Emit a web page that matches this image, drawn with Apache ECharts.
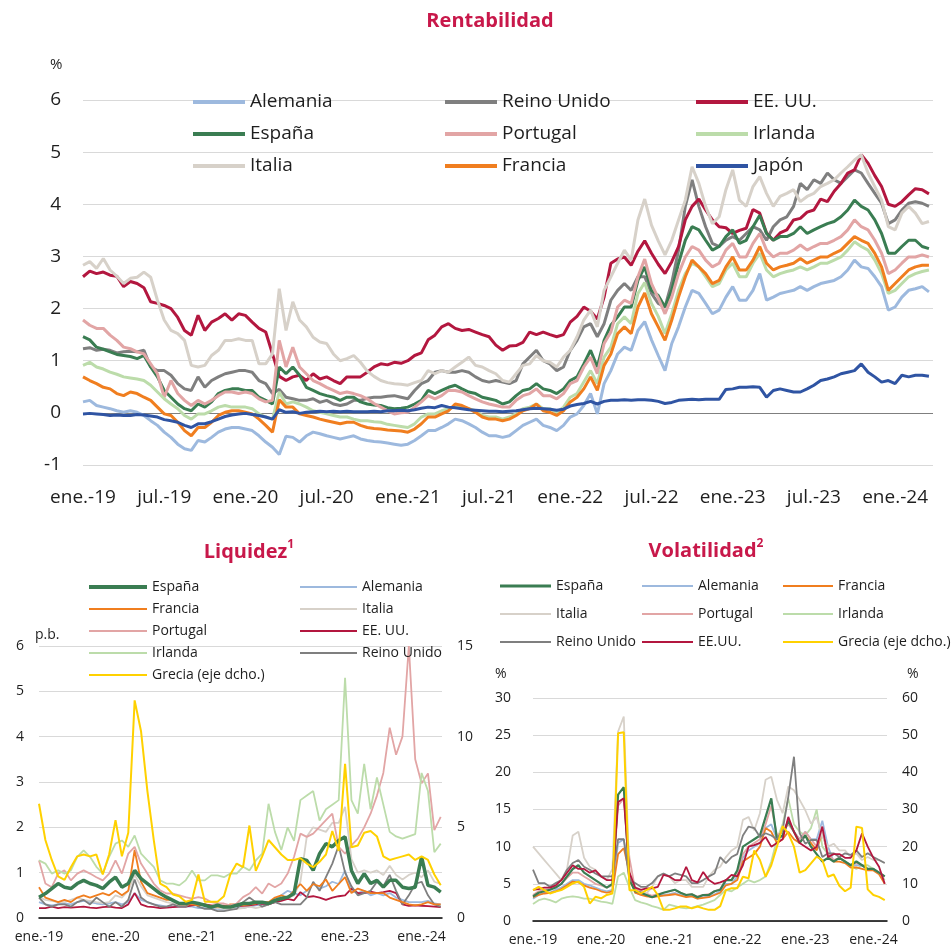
<!DOCTYPE html>
<html>
<head>
<meta charset="utf-8">
<script src="https://cdn.jsdelivr.net/npm/echarts@6.0.0/dist/echarts.min.js"></script>
<style>
  html, body { margin: 0; padding: 0; background: #fff; }
  #rent { position: absolute; left: 0; top: 0; width: 952px; height: 520px; }
  #liq { position: absolute; left: 0; top: 520px; width: 476px; height: 427px; }
  #vol { position: absolute; left: 476px; top: 520px; width: 476px; height: 427px; }
</style>
</head>
<body>
<div id="rent"></div>
<div id="liq"></div>
<div id="vol"></div>
<script>
const FONT = 'Open Sans';

// eje x: meses desde ene.-19
const mesesRent = [];            // quincenal, 126 puntos
for (let i = 0; i < 126; i++) mesesRent.push(i / 2);
const mesesLiq = [];             // mensual, ene.-19 a abr.-24
for (let i = 0; i < 64; i++) mesesLiq.push(i);
const mesesVol = [];             // mensual, ene.-19 a mar.-24
for (let i = 0; i < 63; i++) mesesVol.push(i);

// ---------- Rentabilidad (%) ----------
const rentAlemania = [
  0.21, 0.24, 0.14, 0.11, 0.08, 0.04, 0.01, 0.04, 0.01, -0.05, -0.15, -0.24, -0.37, -0.47, -0.60, -0.69, -0.72, -0.53, -0.56, -0.47, -0.37, -0.31, -0.28, -0.28,
  -0.31, -0.34, -0.44, -0.56, -0.66, -0.80, -0.45, -0.47, -0.56, -0.44, -0.37, -0.40, -0.44, -0.47, -0.50, -0.47, -0.44, -0.50, -0.53, -0.55, -0.56, -0.58, -0.60, -0.62,
  -0.60, -0.53, -0.44, -0.34, -0.34, -0.28, -0.21, -0.12, -0.15, -0.21, -0.28, -0.37, -0.44, -0.44, -0.47, -0.44, -0.34, -0.24, -0.18, -0.12, -0.24, -0.28, -0.34, -0.24,
  -0.08, -0.02, 0.14, 0.37, -0.02, 0.56, 0.81, 1.13, 1.26, 1.20, 1.58, 1.75, 1.40, 1.10, 0.81, 1.33, 1.65, 2.03, 2.35, 2.29, 2.10, 1.90, 1.97, 2.22,
  2.42, 2.16, 2.16, 2.35, 2.67, 2.16, 2.22, 2.29, 2.32, 2.35, 2.42, 2.35, 2.42, 2.48, 2.51, 2.54, 2.61, 2.74, 2.93, 2.80, 2.77, 2.61, 2.42, 1.97,
  2.03, 2.22, 2.35, 2.38, 2.42, 2.32
];
const rentReinoUnido = [
  1.23, 1.25, 1.20, 1.22, 1.20, 1.15, 1.17, 1.18, 1.17, 1.20, 0.88, 0.81, 0.81, 0.72, 0.56, 0.46, 0.43, 0.69, 0.49, 0.62, 0.69, 0.75, 0.78, 0.81,
  0.81, 0.78, 0.62, 0.56, 0.37, 0.45, 0.30, 0.27, 0.24, 0.24, 0.27, 0.20, 0.24, 0.17, 0.14, 0.17, 0.24, 0.24, 0.28, 0.30, 0.30, 0.32, 0.33, 0.30,
  0.27, 0.43, 0.56, 0.62, 0.78, 0.81, 0.78, 0.78, 0.81, 0.78, 0.69, 0.62, 0.59, 0.62, 0.59, 0.56, 0.62, 0.94, 1.07, 1.20, 1.00, 0.94, 0.81, 0.88,
  1.20, 1.39, 1.65, 1.71, 1.46, 1.71, 2.16, 2.35, 2.48, 2.35, 2.61, 2.61, 2.29, 2.10, 2.03, 2.50, 3.12, 3.96, 4.47, 3.96, 3.57, 3.25, 3.19, 3.31,
  3.38, 3.31, 3.44, 3.57, 3.51, 3.31, 3.57, 3.70, 3.76, 3.96, 4.40, 4.28, 4.47, 4.40, 4.60, 4.47, 4.40, 4.53, 4.66, 4.60, 4.40, 4.21, 4.02, 3.63,
  3.70, 3.89, 4.02, 4.05, 4.02, 3.96
];
const rentEEUU = [
  2.61, 2.72, 2.67, 2.70, 2.64, 2.62, 2.42, 2.52, 2.48, 2.40, 2.13, 2.10, 2.06, 2.00, 1.83, 1.58, 1.49, 1.87, 1.58, 1.74, 1.81, 1.90, 1.78, 1.90,
  1.87, 1.74, 1.62, 1.55, 1.13, 0.70, 0.62, 0.69, 0.72, 0.62, 0.75, 0.65, 0.69, 0.62, 0.56, 0.69, 0.69, 0.69, 0.78, 0.88, 0.94, 0.92, 0.97, 0.95,
  1.00, 1.10, 1.15, 1.40, 1.49, 1.65, 1.71, 1.62, 1.58, 1.60, 1.55, 1.50, 1.46, 1.30, 1.20, 1.28, 1.29, 1.35, 1.55, 1.50, 1.55, 1.50, 1.46, 1.50,
  1.74, 1.85, 2.03, 1.95, 1.80, 2.22, 2.87, 2.95, 2.99, 2.83, 3.10, 3.30, 3.06, 2.85, 2.67, 2.90, 3.19, 3.70, 3.96, 4.10, 3.89, 3.70, 3.57, 3.55,
  3.44, 3.50, 3.54, 3.90, 3.83, 3.45, 3.31, 3.45, 3.51, 3.70, 3.73, 3.85, 3.89, 4.10, 4.05, 4.25, 4.40, 4.60, 4.66, 4.95, 4.79, 4.55, 4.34, 4.00,
  3.96, 4.05, 4.18, 4.30, 4.28, 4.20
];
const rentEspana = [
  1.46, 1.40, 1.26, 1.22, 1.17, 1.12, 1.10, 1.08, 1.04, 1.10, 0.88, 0.69, 0.43, 0.30, 0.17, 0.08, 0.04, 0.17, 0.11, 0.21, 0.37, 0.43, 0.46, 0.46,
  0.43, 0.43, 0.30, 0.24, 0.17, 0.88, 0.75, 0.88, 0.72, 0.49, 0.43, 0.37, 0.33, 0.30, 0.24, 0.30, 0.30, 0.21, 0.17, 0.15, 0.14, 0.10, 0.08, 0.09,
  0.11, 0.17, 0.24, 0.43, 0.37, 0.43, 0.49, 0.53, 0.46, 0.40, 0.37, 0.30, 0.27, 0.24, 0.17, 0.21, 0.33, 0.43, 0.46, 0.56, 0.46, 0.43, 0.37, 0.46,
  0.62, 0.69, 0.94, 1.20, 0.88, 1.39, 1.68, 1.84, 2.03, 2.03, 2.54, 2.80, 2.35, 2.25, 2.03, 2.35, 2.87, 3.31, 3.57, 3.51, 3.31, 3.12, 3.19, 3.38,
  3.51, 3.25, 3.31, 3.57, 3.79, 3.44, 3.31, 3.38, 3.38, 3.44, 3.57, 3.44, 3.51, 3.57, 3.63, 3.67, 3.76, 3.89, 4.08, 3.96, 3.89, 3.70, 3.44, 3.06,
  3.06, 3.19, 3.31, 3.31, 3.19, 3.15
];
const rentPortugal = [
  1.78, 1.68, 1.62, 1.62, 1.49, 1.39, 1.26, 1.23, 1.17, 1.13, 0.94, 0.75, 0.30, 0.62, 0.37, 0.24, 0.14, 0.24, 0.17, 0.24, 0.33, 0.40, 0.40, 0.37,
  0.40, 0.37, 0.27, 0.21, 0.24, 1.39, 0.88, 1.26, 0.88, 0.75, 0.62, 0.56, 0.49, 0.43, 0.37, 0.40, 0.37, 0.33, 0.27, 0.18, 0.11, 0.04, -0.02, 0.00,
  0.01, 0.11, 0.21, 0.33, 0.27, 0.33, 0.43, 0.43, 0.40, 0.33, 0.27, 0.21, 0.17, 0.14, 0.11, 0.11, 0.24, 0.33, 0.37, 0.46, 0.33, 0.33, 0.27, 0.37,
  0.56, 0.62, 0.88, 1.07, 0.75, 1.33, 1.55, 2.03, 2.16, 2.10, 2.61, 2.95, 2.48, 2.20, 1.90, 2.22, 2.67, 2.99, 3.19, 3.12, 2.93, 2.80, 2.87, 3.12,
  3.25, 2.99, 2.99, 3.25, 3.44, 3.12, 2.99, 3.06, 3.06, 3.12, 3.22, 3.12, 3.19, 3.25, 3.25, 3.31, 3.38, 3.51, 3.70, 3.57, 3.51, 3.31, 3.06, 2.67,
  2.74, 2.87, 2.99, 2.99, 3.03, 2.99
];
const rentIrlanda = [
  0.91, 0.97, 0.88, 0.84, 0.78, 0.74, 0.69, 0.67, 0.65, 0.62, 0.53, 0.40, 0.27, 0.17, 0.08, -0.05, -0.12, -0.02, -0.02, 0.04, 0.11, 0.14, 0.11, 0.11,
  0.11, 0.08, -0.02, -0.08, -0.12, 0.40, 0.17, 0.21, 0.17, 0.11, 0.04, 0.01, -0.02, -0.05, -0.08, -0.08, -0.12, -0.15, -0.15, -0.17, -0.18, -0.22, -0.24, -0.26,
  -0.28, -0.21, -0.08, -0.02, -0.02, 0.04, 0.08, 0.11, 0.11, 0.08, 0.04, -0.05, -0.08, -0.08, -0.12, -0.08, -0.02, 0.08, 0.11, 0.17, 0.08, 0.08, 0.01, 0.11,
  0.30, 0.37, 0.59, 0.81, 0.56, 1.07, 1.26, 1.71, 1.84, 1.71, 2.29, 2.50, 2.10, 1.85, 1.52, 1.90, 2.35, 2.67, 2.87, 2.80, 2.61, 2.42, 2.48, 2.74,
  2.87, 2.61, 2.61, 2.87, 3.06, 2.74, 2.61, 2.67, 2.71, 2.74, 2.80, 2.74, 2.80, 2.87, 2.87, 2.93, 2.99, 3.12, 3.28, 3.19, 3.12, 2.93, 2.67, 2.29,
  2.35, 2.48, 2.61, 2.67, 2.71, 2.74
];
const rentItalia = [
  2.83, 2.90, 2.77, 2.96, 2.74, 2.62, 2.48, 2.58, 2.60, 2.70, 2.60, 2.16, 1.78, 1.58, 1.52, 1.39, 0.91, 0.88, 0.91, 1.10, 1.20, 1.39, 1.39, 1.42,
  1.39, 1.39, 0.94, 0.94, 1.13, 2.38, 1.58, 2.13, 1.78, 1.65, 1.45, 1.36, 1.33, 1.13, 1.00, 1.04, 1.10, 0.97, 0.80, 0.70, 0.62, 0.58, 0.56, 0.55,
  0.53, 0.58, 0.62, 0.81, 0.75, 0.81, 0.78, 0.88, 0.97, 1.07, 0.91, 0.88, 0.81, 0.75, 0.62, 0.59, 0.75, 0.91, 0.94, 1.10, 1.00, 0.97, 0.88, 1.07,
  1.20, 1.46, 1.78, 1.97, 1.65, 2.35, 2.61, 2.87, 3.12, 2.93, 3.70, 4.10, 3.60, 3.30, 3.03, 3.31, 3.70, 4.08, 4.72, 4.40, 3.96, 3.63, 3.76, 4.28,
  4.66, 4.08, 3.96, 4.34, 4.53, 4.21, 3.96, 4.15, 4.21, 4.28, 4.05, 4.15, 4.21, 4.34, 4.40, 4.47, 4.60, 4.72, 4.85, 4.95, 4.60, 4.34, 4.08, 3.57,
  3.51, 3.83, 3.96, 3.83, 3.63, 3.67
];
const rentFrancia = [
  0.69, 0.62, 0.56, 0.49, 0.46, 0.37, 0.33, 0.40, 0.37, 0.30, 0.24, 0.11, -0.02, -0.05, -0.18, -0.34, -0.44, -0.28, -0.28, -0.18, -0.05, 0.01, 0.04, 0.04,
  0.01, -0.02, -0.12, -0.24, -0.37, 0.25, 0.11, 0.11, -0.02, -0.05, -0.08, -0.12, -0.15, -0.18, -0.21, -0.18, -0.18, -0.24, -0.28, -0.30, -0.31, -0.33, -0.34, -0.35,
  -0.37, -0.31, -0.21, -0.08, -0.08, -0.02, 0.04, 0.17, 0.14, 0.08, 0.01, -0.08, -0.12, -0.12, -0.15, -0.12, -0.05, 0.04, 0.08, 0.17, 0.04, 0.01, -0.05, 0.04,
  0.21, 0.30, 0.46, 0.69, 0.43, 0.91, 1.13, 1.52, 1.65, 1.52, 2.03, 2.30, 1.90, 1.65, 1.39, 1.78, 2.22, 2.61, 2.93, 2.80, 2.67, 2.48, 2.54, 2.80,
  2.99, 2.74, 2.74, 2.93, 3.19, 2.87, 2.74, 2.80, 2.83, 2.87, 2.96, 2.87, 2.93, 2.99, 2.99, 3.06, 3.12, 3.25, 3.38, 3.31, 3.25, 3.06, 2.80, 2.35,
  2.48, 2.61, 2.74, 2.80, 2.83, 2.83
];
const rentJapon = [
  -0.02, -0.01, -0.02, -0.03, -0.05, -0.04, -0.05, -0.05, -0.03, -0.04, -0.06, -0.08, -0.13, -0.15, -0.18, -0.24, -0.28, -0.21, -0.21, -0.17, -0.12, -0.07, -0.04, -0.02,
  -0.01, -0.03, -0.05, -0.08, -0.12, 0.06, 0.01, 0.02, -0.01, 0.01, 0.02, 0.03, 0.02, 0.03, 0.02, 0.03, 0.02, 0.02, 0.02, 0.03, 0.02, 0.04, 0.04, 0.05,
  0.04, 0.06, 0.09, 0.11, 0.10, 0.14, 0.11, 0.10, 0.08, 0.06, 0.05, 0.04, 0.03, 0.03, 0.02, 0.03, 0.04, 0.06, 0.08, 0.09, 0.08, 0.07, 0.05, 0.07,
  0.13, 0.16, 0.18, 0.22, 0.17, 0.22, 0.24, 0.24, 0.25, 0.24, 0.25, 0.25, 0.24, 0.22, 0.18, 0.20, 0.24, 0.25, 0.26, 0.25, 0.26, 0.26, 0.26, 0.45,
  0.46, 0.49, 0.49, 0.50, 0.49, 0.30, 0.43, 0.46, 0.43, 0.40, 0.40, 0.46, 0.53, 0.62, 0.65, 0.69, 0.75, 0.78, 0.81, 0.94, 0.78, 0.69, 0.59, 0.62,
  0.56, 0.72, 0.69, 0.72, 0.72, 0.70
];

// ---------- Liquidez (p.b.; Grecia en eje derecho) ----------
const liqEspana = [
  0.46, 0.54, 0.65, 0.76, 0.68, 0.65, 0.76, 0.83, 0.76, 0.72, 0.65, 0.79,
  0.90, 0.68, 0.76, 1.05, 0.87, 0.76, 0.65, 0.54, 0.46, 0.39, 0.32, 0.32,
  0.35, 0.32, 0.28, 0.24, 0.28, 0.24, 0.24, 0.28, 0.32, 0.32, 0.35, 0.35,
  0.32, 0.39, 0.43, 0.46, 0.54, 1.31, 1.27, 1.05, 1.42, 1.64, 1.57, 1.71,
  1.79, 1.05, 0.76, 0.98, 0.76, 0.83, 0.68, 0.83, 0.83, 0.68, 0.65, 0.68,
  1.35, 0.72, 0.68, 0.57
];
const liqAlemania = [
  0.35, 0.30, 0.28, 0.30, 0.32, 0.30, 0.35, 0.38, 0.35, 0.32, 0.30, 0.32,
  0.35, 0.30, 0.35, 0.55, 0.40, 0.35, 0.30, 0.28, 0.25, 0.25, 0.25, 0.25,
  0.25, 0.22, 0.22, 0.20, 0.20, 0.18, 0.20, 0.22, 0.22, 0.25, 0.28, 0.30,
  0.35, 0.40, 0.50, 0.60, 0.55, 0.50, 0.60, 0.75, 0.65, 0.70, 0.80, 0.75,
  1.05, 0.60, 0.55, 0.60, 0.50, 0.55, 0.50, 0.55, 0.45, 0.40, 0.35, 0.35,
  0.35, 0.38, 0.32, 0.30
];
const liqFrancia = [
  0.68, 0.45, 0.40, 0.35, 0.40, 0.35, 0.45, 0.50, 0.45, 0.50, 0.55, 0.50,
  0.60, 0.50, 0.60, 1.50, 0.80, 0.55, 0.50, 0.45, 0.40, 0.40, 0.30, 0.30,
  0.30, 0.28, 0.30, 0.25, 0.25, 0.25, 0.30, 0.30, 0.28, 0.30, 0.32, 0.35,
  0.35, 0.45, 0.50, 0.45, 0.60, 0.75, 0.60, 0.75, 0.70, 0.85, 0.60, 0.75,
  0.90, 0.55, 0.65, 0.60, 0.55, 0.55, 0.55, 0.45, 0.40, 0.35, 0.30, 0.28,
  0.30, 0.35, 0.30, 0.30
];
const liqItalia = [
  0.46, 0.40, 0.38, 0.35, 0.35, 0.40, 0.45, 0.40, 0.38, 0.35, 0.33, 0.35,
  0.50, 0.45, 0.60, 0.95, 0.70, 0.50, 0.45, 0.40, 0.35, 0.32, 0.30, 0.30,
  0.28, 0.30, 0.28, 0.25, 0.22, 0.20, 0.20, 0.20, 0.22, 0.25, 0.22, 0.25,
  0.30, 0.35, 0.40, 0.45, 0.50, 0.80, 1.80, 2.00, 1.95, 1.90, 2.10, 2.10,
  2.45, 1.30, 1.00, 1.05, 1.00, 1.05, 0.95, 1.15, 0.95, 0.85, 0.95, 1.00,
  0.90, 1.05, 0.80, 0.75
];
const liqPortugal = [
  1.27, 0.76, 0.68, 0.98, 1.05, 0.83, 0.98, 1.05, 0.98, 0.90, 0.83, 0.98,
  1.27, 0.98, 1.42, 1.57, 1.20, 0.98, 0.76, 0.61, 0.54, 0.54, 0.50, 0.46,
  0.43, 0.46, 0.43, 0.35, 0.32, 0.32, 0.28, 0.32, 0.46, 0.54, 0.68, 0.54,
  0.76, 0.68, 0.76, 0.98, 1.35, 1.86, 1.79, 1.86, 2.01, 2.16, 2.30, 1.57,
  1.42, 1.60, 1.75, 2.00, 2.30, 2.70, 3.20, 4.20, 3.60, 4.00, 6.00, 3.50,
  2.97, 3.19, 1.94, 2.23
];
const liqEEUU = [
  0.22, 0.22, 0.25, 0.22, 0.24, 0.23, 0.24, 0.25, 0.23, 0.22, 0.24, 0.25,
  0.23, 0.22, 0.30, 0.55, 0.30, 0.25, 0.24, 0.22, 0.23, 0.24, 0.25, 0.25,
  0.28, 0.30, 0.30, 0.28, 0.26, 0.27, 0.25, 0.26, 0.27, 0.28, 0.30, 0.32,
  0.30, 0.35, 0.38, 0.42, 0.39, 0.57, 0.46, 0.48, 0.45, 0.40, 0.45, 0.48,
  0.50, 0.65, 0.55, 0.55, 0.58, 0.55, 0.57, 0.60, 0.55, 0.30, 0.27, 0.28,
  0.27, 0.26, 0.25, 0.24
];
const liqIrlanda = [
  1.27, 1.20, 0.98, 1.05, 0.98, 1.05, 1.35, 1.49, 1.35, 1.13, 0.98, 1.35,
  1.64, 1.71, 1.57, 1.82, 1.42, 1.27, 1.13, 0.83, 0.76, 0.76, 0.72, 0.83,
  1.05, 0.83, 0.83, 0.94, 0.94, 0.90, 0.98, 0.98, 1.13, 1.05, 1.27, 1.42,
  2.52, 1.90, 1.50, 2.00, 1.70, 2.60, 2.70, 2.80, 2.15, 2.40, 2.50, 2.60,
  5.30, 2.60, 2.30, 3.40, 2.40, 3.10, 2.50, 1.90, 1.80, 1.75, 1.80, 1.85,
  3.20, 2.80, 1.45, 1.64
];
const liqReinoUnido = [
  0.45, 0.30, 0.25, 0.30, 0.30, 0.25, 0.35, 0.40, 0.30, 0.45, 0.35, 0.25,
  0.35, 0.25, 0.40, 0.85, 0.45, 0.35, 0.30, 0.25, 0.25, 0.30, 0.25, 0.25,
  0.35, 0.25, 0.20, 0.20, 0.15, 0.15, 0.18, 0.20, 0.35, 0.45, 0.35, 0.25,
  0.30, 0.35, 0.30, 0.30, 0.30, 0.30, 0.45, 0.80, 0.60, 0.90, 1.20, 1.60,
  1.00, 0.70, 0.50, 0.55, 0.60, 0.80, 0.70, 0.95, 0.60, 0.30, 0.50, 0.75,
  0.80, 0.50, 0.30, 0.25
];
const liqGrecia = [
  6.3, 4.3, 3.2, 2.3, 2.1, 2.8, 3.4, 3.5, 3.4, 3.5, 2.4, 3.5,
  5.4, 3.4, 4.7, 12.0, 10.3, 7.0, 4.3, 1.9, 1.7, 1.3, 1.2, 0.9,
  1.0, 2.4, 0.9, 0.9, 0.9, 1.2, 2.4, 3.0, 2.8, 5.1, 2.6, 3.4,
  4.3, 3.9, 3.5, 3.2, 3.2, 3.3, 3.0, 2.8, 3.1, 3.5, 4.8, 3.7,
  8.5, 3.9, 4.0, 4.7, 4.8, 4.5, 3.4, 3.2, 3.3, 3.4, 3.5, 3.2,
  3.4, 3.2, 2.4, 1.8
];

// ---------- Volatilidad (%; Grecia en eje derecho) ----------
const volEspana = [
  3.3, 3.8, 4.0, 4.2, 4.5, 5.0, 6.0, 7.0, 7.5, 6.5, 6.0, 5.5,
  5.0, 4.5, 5.0, 17.0, 18.0, 5.5, 4.0, 3.8, 3.5, 3.2, 3.5, 3.8,
  4.0, 4.2, 3.8, 3.5, 3.6, 3.2, 3.5, 3.5, 4.0, 4.2, 5.5, 5.5,
  6.8, 10.0, 10.5, 11.0, 11.5, 14.0, 16.5, 11.0, 11.5, 13.5, 12.0, 10.5,
  11.5, 10.0, 9.0, 8.0, 8.5, 8.0, 8.5, 8.0, 7.5, 8.0, 7.5, 7.0,
  7.0, 6.5, 6.0
];
const volAlemania = [
  3.0, 3.5, 3.8, 3.8, 4.2, 4.5, 5.0, 5.5, 5.5, 5.0, 4.8, 4.5,
  4.2, 4.0, 4.2, 10.5, 11.0, 6.0, 3.8, 3.6, 3.5, 3.2, 3.4, 3.5,
  3.6, 3.8, 3.5, 3.3, 3.4, 3.0, 3.2, 3.3, 3.6, 4.0, 5.0, 5.0,
  6.0, 8.5, 9.5, 10.0, 10.5, 12.5, 13.0, 11.0, 11.5, 13.5, 12.0, 11.0,
  12.0, 11.0, 11.0, 13.5, 10.0, 8.0, 8.5, 8.0, 7.5, 7.5, 7.5, 7.0,
  7.0, 6.5, 6.0
];
const volFrancia = [
  3.2, 3.5, 3.7, 3.8, 4.0, 4.3, 4.8, 5.3, 5.2, 4.8, 4.5, 4.3,
  4.0, 3.8, 4.0, 9.0, 9.8, 6.5, 3.8, 3.5, 3.3, 3.2, 3.3, 3.4,
  3.5, 3.6, 3.4, 3.2, 3.3, 3.0, 3.1, 3.2, 3.5, 3.8, 4.8, 5.0,
  5.5, 8.0, 8.5, 9.0, 10.0, 12.5, 12.0, 10.5, 11.0, 12.0, 11.0, 10.5,
  11.5, 10.5, 9.5, 12.0, 9.0, 8.0, 8.0, 7.8, 7.2, 7.2, 7.0, 6.8,
  6.8, 6.3, 5.0
];
const volItalia = [
  10.0, 9.1, 8.2, 7.3, 6.4, 5.5, 7.0, 11.5, 12.0, 8.5, 7.3, 6.9,
  6.0, 5.5, 7.0, 25.5, 27.5, 6.0, 4.6, 4.2, 3.7, 4.6, 6.0, 6.4,
  6.0, 5.1, 5.5, 5.5, 4.6, 4.6, 4.6, 6.0, 6.9, 7.3, 8.6, 9.5,
  10.0, 13.6, 14.0, 12.2, 14.5, 19.0, 19.4, 16.3, 14.5, 18.1, 17.6, 16.3,
  14.9, 13.1, 14.0, 11.3, 10.0, 10.4, 9.5, 9.5, 8.6, 9.1, 8.2, 8.6,
  8.2, 8.2, 7.8
];
const volPortugal = [
  3.5, 4.0, 4.2, 4.3, 4.6, 5.0, 5.8, 6.5, 6.5, 6.0, 5.5, 5.0,
  4.8, 4.5, 4.8, 15.5, 16.5, 8.5, 4.3, 4.0, 3.7, 3.4, 3.6, 3.8,
  4.0, 4.2, 3.8, 3.5, 3.6, 3.3, 3.5, 3.6, 4.0, 4.3, 5.5, 5.5,
  6.5, 9.0, 10.0, 10.5, 11.0, 13.0, 15.5, 11.5, 12.0, 13.0, 12.0, 11.0,
  12.0, 11.0, 10.0, 12.0, 9.0, 8.2, 8.5, 8.0, 7.5, 7.8, 7.5, 7.0,
  7.0, 6.5, 6.0
];
const volIrlanda = [
  2.3, 2.8, 3.0, 2.8, 2.5, 3.0, 3.2, 3.3, 3.2, 3.0, 3.0, 2.8,
  2.6, 2.5, 2.3, 6.0, 6.5, 4.5, 2.8, 2.5, 2.3, 2.0, 1.8, 1.5,
  2.2, 2.0, 1.8, 1.7, 1.8, 2.0, 2.2, 2.5, 2.8, 3.5, 4.2, 4.0,
  4.5, 5.0, 5.5, 5.2, 5.5, 6.0, 8.0, 11.0, 13.0, 16.5, 13.0, 12.0,
  11.5, 12.5, 15.0, 10.0, 9.0, 8.0, 8.5, 8.0, 7.5, 7.0, 7.5, 7.5,
  7.0, 6.5, 5.5
];
const volReinoUnido = [
  6.9, 5.1, 5.1, 4.6, 5.1, 5.5, 6.9, 7.8, 8.2, 7.3, 6.9, 6.4,
  6.0, 6.0, 6.0, 11.0, 11.0, 5.5, 5.1, 4.6, 4.6, 5.1, 6.0, 6.4,
  6.0, 6.4, 6.2, 6.0, 5.1, 5.1, 5.5, 6.0, 6.4, 8.6, 7.8, 8.6,
  9.0, 11.5, 12.7, 12.5, 11.3, 11.8, 11.5, 11.0, 12.2, 16.7, 22.1, 11.8,
  10.4, 10.9, 10.9, 8.6, 9.1, 9.1, 8.6, 9.1, 8.9, 9.5, 8.6, 9.1,
  8.6, 8.2, 7.8
];
const volEEUU = [
  4.2, 4.3, 4.5, 4.5, 4.8, 5.5, 6.5, 7.5, 7.0, 7.0, 6.5, 6.8,
  6.0, 5.5, 5.5, 16.0, 16.5, 6.5, 4.5, 4.2, 4.4, 4.4, 4.6, 6.2,
  6.0, 5.5, 5.5, 7.3, 5.5, 5.2, 6.6, 5.5, 5.0, 5.2, 5.5, 6.2,
  6.0, 7.5, 10.0, 10.2, 10.5, 11.3, 10.0, 10.5, 11.0, 14.0, 12.0, 10.5,
  10.0, 9.5, 10.0, 12.7, 8.6, 9.0, 9.0, 8.5, 8.5, 9.5, 11.8, 10.0,
  8.5, 7.3, 5.0
];
const volGrecia = [
  8.3, 9.2, 8.3, 7.4, 7.9, 8.3, 9.2, 10.1, 10.6, 9.2, 4.7, 6.5,
  6.1, 7.0, 7.4, 50.5, 50.8, 8.3, 8.3, 7.4, 8.3, 9.2, 7.0, 3.0,
  3.0, 3.4, 3.9, 3.9, 3.4, 3.9, 3.4, 3.0, 3.0, 4.0, 8.3, 8.8,
  8.8, 11.9, 11.5, 19.0, 16.4, 11.9, 15.0, 20.0, 25.5, 23.6, 20.0, 13.0,
  13.7, 15.5, 17.3, 16.4, 11.9, 12.5, 9.5, 8.0, 9.0, 25.4, 25.0, 8.5,
  7.0, 6.5, 5.6
];

const COL = {
  alemania: '#9db9de', reino: '#7f7f7f', eeuu: '#b3173f', espana: '#3a7d52',
  portugal: '#e2a5a5', irlanda: '#bcdcaa', italia: '#d7d1c9', francia: '#f07e1f',
  japon: '#2f54a3', grecia: '#ffd100'
};
const ROJO = '#c8184a';
const TXT = '#1e1e1e';

function fecha(v) {
  if (Math.abs(v - Math.round(v)) > 1e-6) return '';
  const m = Math.round(v);
  if (m % 6 !== 0) return '';
  return (m % 12 === 0 ? 'ene.-' : 'jul.-') + (19 + Math.floor(m / 12));
}

function serie(nombre, valores, meses, color, ancho, eje) {
  return {
    name: nombre, type: 'line', yAxisIndex: eje || 0, symbol: 'none', color: color,
    lineStyle: { width: ancho, color: color }, silent: true, emphasis: { disabled: true },
    data: meses.map((m, i) => [m, valores[i]])
  };
}

function leyenda(items, left, top, w, h, fs, lh, gap) {
  return {
    data: items, left: left, top: top, orient: 'vertical', icon: 'rect', padding: 0,
    itemWidth: w, itemHeight: h, itemGap: gap, selectedMode: false,
    textStyle: { fontFamily: FONT, fontSize: fs, lineHeight: lh, color: TXT }
  };
}

function titulo(x, y, texto, sup) {
  return {
    type: 'text', x: x, y: y, silent: true,
    style: {
      text: '{t|' + texto + '}' + (sup ? '{s|' + sup + '}' : ''),
      align: 'center', verticalAlign: 'middle',
      rich: {
        t: { fontFamily: FONT, fontSize: 20, fontWeight: 'bold', fill: ROJO, lineHeight: 26 },
        s: { fontFamily: FONT, fontSize: 12, fontWeight: 'bold', fill: ROJO, verticalAlign: 'top', lineHeight: 14 }
      }
    }
  };
}

function rotulo(x, y, texto, fs) {
  return { type: 'text', x: x, y: y, silent: true,
    style: { text: texto, fontFamily: FONT, fontSize: fs, fill: TXT, verticalAlign: 'middle' } };
}

// ---------- Rentabilidad ----------
const cRent = echarts.init(document.getElementById('rent'));
const gridColors = ['#d9d9d9', '#7f7f7f', '#d9d9d9', '#d9d9d9', '#d9d9d9', '#d9d9d9', '#d9d9d9', '#d9d9d9'];
cRent.setOption({
  animation: false,
  textStyle: { fontFamily: FONT },
  graphic: [titulo(490, 21, 'Rentabilidad'), rotulo(50, 65, '%', 15)],
  legend: [
    leyenda(['Alemania', 'España', 'Italia'], 193, 91, 52, 4, 19, 22, 10),
    leyenda(['Reino Unido', 'Portugal', 'Francia'], 445, 91, 52, 4, 19, 22, 10),
    leyenda(['EE. UU.', 'Irlanda', 'Japón'], 696, 91, 52, 4, 19, 22, 10)
  ],
  grid: { left: 83, right: 19, top: 100, bottom: 55 },
  xAxis: {
    type: 'value', min: 0, max: 62.8, interval: 6,
    axisLine: { show: false }, axisTick: { show: false }, splitLine: { show: false },
    axisLabel: { formatter: fecha, fontSize: 19, color: TXT, margin: 23, fontFamily: FONT }
  },
  yAxis: {
    type: 'value', min: -1, max: 6, interval: 1,
    axisLine: { show: false }, axisTick: { show: false },
    axisLabel: { fontSize: 19, color: TXT, margin: 22, fontFamily: FONT },
    splitLine: { lineStyle: { color: gridColors, width: 1 } }
  },
  series: [
    serie('Alemania', rentAlemania, mesesRent, COL.alemania, 3),
    serie('Reino Unido', rentReinoUnido, mesesRent, COL.reino, 3),
    serie('EE. UU.', rentEEUU, mesesRent, COL.eeuu, 3),
    serie('España', rentEspana, mesesRent, COL.espana, 3),
    serie('Portugal', rentPortugal, mesesRent, COL.portugal, 3),
    serie('Irlanda', rentIrlanda, mesesRent, COL.irlanda, 3),
    serie('Italia', rentItalia, mesesRent, COL.italia, 3),
    serie('Francia', rentFrancia, mesesRent, COL.francia, 3),
    serie('Japón', rentJapon, mesesRent, COL.japon, 3)
  ]
});

// ---------- Liquidez ----------
const cLiq = echarts.init(document.getElementById('liq'));
cLiq.setOption({
  animation: false,
  textStyle: { fontFamily: FONT },
  graphic: [titulo(249, 32, 'Liquidez', '1'), rotulo(35, 115, 'p.b.', 14)],
  legend: [
    leyenda(['España'], 89, 59, 58, 4, 14, 16, 6),
    leyenda(['Francia', 'Portugal', 'Irlanda', 'Grecia (eje dcho.)'], 89, 81, 58, 2, 14, 16, 6),
    leyenda(['Alemania', 'Italia', 'EE. UU.', 'Reino Unido'], 300, 59, 57, 2, 14, 16, 6)
  ],
  grid: { left: 39, right: 31, top: 126, bottom: 29 },
  xAxis: {
    type: 'value', min: 0, max: 63.2, interval: 12,
    axisLine: { show: true, lineStyle: { color: '#000', width: 1.5 } },
    axisTick: { show: false }, splitLine: { show: false },
    axisLabel: { formatter: fecha, fontSize: 14, color: TXT, margin: 12, fontFamily: FONT }
  },
  yAxis: [
    { type: 'value', min: 0, max: 6, interval: 1,
      axisLine: { show: false }, axisTick: { show: false },
      axisLabel: { fontSize: 14, color: TXT, margin: 15, fontFamily: FONT },
      splitLine: { lineStyle: { color: '#d9d9d9' } } },
    { type: 'value', min: 0, max: 15, interval: 5, position: 'right',
      axisLine: { show: false }, axisTick: { show: false }, splitLine: { show: false },
      axisLabel: { fontSize: 14, color: TXT, margin: 15, fontFamily: FONT } }
  ],
  series: [
    serie('Alemania', liqAlemania, mesesLiq, COL.alemania, 1.8),
    serie('Italia', liqItalia, mesesLiq, COL.italia, 1.8),
    serie('EE. UU.', liqEEUU, mesesLiq, COL.eeuu, 1.8),
    serie('Reino Unido', liqReinoUnido, mesesLiq, COL.reino, 1.8),
    serie('Francia', liqFrancia, mesesLiq, COL.francia, 1.8),
    serie('Portugal', liqPortugal, mesesLiq, COL.portugal, 1.8),
    serie('Irlanda', liqIrlanda, mesesLiq, COL.irlanda, 1.8),
    serie('España', liqEspana, mesesLiq, COL.espana, 3.5),
    serie('Grecia (eje dcho.)', liqGrecia, mesesLiq, COL.grecia, 2, 1)
  ]
});

// ---------- Volatilidad ----------
const cVol = echarts.init(document.getElementById('vol'));
cVol.setOption({
  animation: false,
  textStyle: { fontFamily: FONT },
  graphic: [titulo(230, 31, 'Volatilidad', '2'), rotulo(19, 154, '%', 14), rotulo(431, 154, '%', 14)],
  legend: [
    leyenda(['España'], 24, 58, 51, 3, 14, 16, 12),
    leyenda(['Italia', 'Reino Unido'], 24, 86, 51, 2, 14, 16, 12),
    leyenda(['Alemania', 'Portugal', 'EE.UU.'], 166, 58, 51, 2, 14, 16, 12),
    leyenda(['Francia', 'Irlanda', 'Grecia (eje dcho.)'], 307, 58, 50, 2, 14, 16, 12)
  ],
  grid: { left: 57, right: 65, top: 178, bottom: 26 },
  xAxis: {
    type: 'value', min: 0, max: 62.4, interval: 12,
    axisLine: { show: true, lineStyle: { color: '#000', width: 1.5 } },
    axisTick: { show: false }, splitLine: { show: false },
    axisLabel: { formatter: fecha, fontSize: 14, color: TXT, margin: 12, fontFamily: FONT }
  },
  yAxis: [
    { type: 'value', min: 0, max: 30, interval: 5,
      axisLine: { show: false }, axisTick: { show: false },
      axisLabel: { fontSize: 14, color: TXT, margin: 22, fontFamily: FONT },
      splitLine: { lineStyle: { color: '#d9d9d9' } } },
    { type: 'value', min: 0, max: 60, interval: 10, position: 'right',
      axisLine: { show: false }, axisTick: { show: false }, splitLine: { show: false },
      axisLabel: { fontSize: 14, color: TXT, margin: 15, fontFamily: FONT } }
  ],
  series: [
    serie('Irlanda', volIrlanda, mesesVol, COL.irlanda, 1.8),
    serie('Alemania', volAlemania, mesesVol, COL.alemania, 1.8),
    serie('Francia', volFrancia, mesesVol, COL.francia, 1.8),
    serie('Portugal', volPortugal, mesesVol, COL.portugal, 1.8),
    serie('Italia', volItalia, mesesVol, COL.italia, 1.8),
    serie('España', volEspana, mesesVol, COL.espana, 2.2),
    serie('Reino Unido', volReinoUnido, mesesVol, COL.reino, 1.8),
    serie('EE.UU.', volEEUU, mesesVol, COL.eeuu, 1.8),
    serie('Grecia (eje dcho.)', volGrecia, mesesVol, COL.grecia, 2, 1)
  ]
});
</script>
</body>
</html>
